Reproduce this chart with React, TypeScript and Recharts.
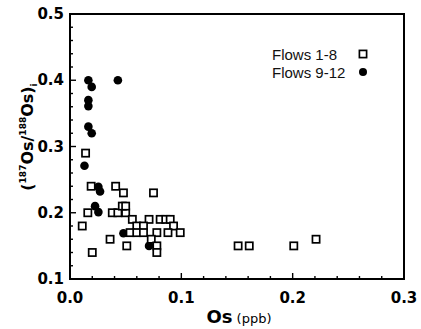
import { ScatterChart, Scatter, XAxis, YAxis, Legend, ReferenceArea } from "recharts";

// Os concentration (ppb) vs initial 187Os/188Os
const flows1to8 = [
  { os: 0.014, ratio: 0.29 },
  { os: 0.019, ratio: 0.24 },
  { os: 0.041, ratio: 0.24 },
  { os: 0.048, ratio: 0.23 },
  { os: 0.075, ratio: 0.23 },
  { os: 0.016, ratio: 0.2 },
  { os: 0.038, ratio: 0.2 },
  { os: 0.043, ratio: 0.2 },
  { os: 0.05, ratio: 0.2 },
  { os: 0.047, ratio: 0.21 },
  { os: 0.05, ratio: 0.21 },
  { os: 0.056, ratio: 0.19 },
  { os: 0.071, ratio: 0.19 },
  { os: 0.081, ratio: 0.19 },
  { os: 0.086, ratio: 0.19 },
  { os: 0.09, ratio: 0.19 },
  { os: 0.011, ratio: 0.18 },
  { os: 0.06, ratio: 0.18 },
  { os: 0.066, ratio: 0.18 },
  { os: 0.093, ratio: 0.18 },
  { os: 0.054, ratio: 0.17 },
  { os: 0.06, ratio: 0.17 },
  { os: 0.066, ratio: 0.17 },
  { os: 0.078, ratio: 0.17 },
  { os: 0.088, ratio: 0.17 },
  { os: 0.099, ratio: 0.17 },
  { os: 0.036, ratio: 0.16 },
  { os: 0.073, ratio: 0.16 },
  { os: 0.051, ratio: 0.15 },
  { os: 0.078, ratio: 0.15 },
  { os: 0.02, ratio: 0.14 },
  { os: 0.078, ratio: 0.14 },
  { os: 0.151, ratio: 0.15 },
  { os: 0.161, ratio: 0.15 },
  { os: 0.201, ratio: 0.15 },
  { os: 0.221, ratio: 0.16 },
];

const flows9to12 = [
  { os: 0.0165, ratio: 0.4 },
  { os: 0.0195, ratio: 0.39 },
  { os: 0.0165, ratio: 0.37 },
  { os: 0.0165, ratio: 0.361 },
  { os: 0.0165, ratio: 0.33 },
  { os: 0.0195, ratio: 0.32 },
  { os: 0.043, ratio: 0.4 },
  { os: 0.013, ratio: 0.271 },
  { os: 0.0255, ratio: 0.239 },
  { os: 0.027, ratio: 0.232 },
  { os: 0.0225, ratio: 0.21 },
  { os: 0.0255, ratio: 0.201 },
  { os: 0.048, ratio: 0.169 },
  { os: 0.071, ratio: 0.15 },
];

const xTicks = [0, 0.02, 0.04, 0.06, 0.08, 0.1, 0.12, 0.14, 0.16, 0.18, 0.2, 0.22, 0.24, 0.26, 0.28, 0.3];
const yTicks = [
  0.1, 0.12, 0.14, 0.16, 0.18, 0.2, 0.22, 0.24, 0.26, 0.28, 0.3,
  0.32, 0.34, 0.36, 0.38, 0.4, 0.42, 0.44, 0.46, 0.48, 0.5,
];

if (typeof document !== "undefined") document.body.style.margin = "0";

const TICK_FONT = "'DejaVu Sans', sans-serif";
const isMajor = (v: number) => Math.abs(v * 10 - Math.round(v * 10)) < 1e-6;

// ticks point into the plot, labels only on the majors (drawn as paths)
function InTick({ x, y, payload, side }: any) {
  const v = payload.value;
  const len = isMajor(v) ? 6 : 3;
  const tickProps = { stroke: "#000", strokeWidth: 1.4, fill: "none" };
  if (side === "bottom")
    return (
      <g>
        <path d={`M${x},${y}V${y - len}`} {...tickProps} />
        {isMajor(v) && (
          <text x={x} y={y + 24} textAnchor="middle" fontFamily={TICK_FONT} fontWeight="bold" fontSize={15} fill="#000">
            {v.toFixed(1)}
          </text>
        )}
      </g>
    );
  if (side === "left")
    return (
      <g>
        <path d={`M${x},${y}H${x + len}`} {...tickProps} />
        {isMajor(v) && (
          <text x={x - 6} y={y + 5} textAnchor="end" fontFamily={TICK_FONT} fontWeight="bold" fontSize={15} fill="#000">
            {v.toFixed(1)}
          </text>
        )}
      </g>
    );
  if (side === "top") return <path d={`M${x},${y}V${y + len}`} {...tickProps} />;
  return <path d={`M${x},${y}H${x - len}`} {...tickProps} />;
}

const OpenSquare = ({ cx, cy }: any) => (
  <rect x={cx - 3.6} y={cy - 3.6} width={7.2} height={7.2} fill="#fff" stroke="#000" strokeWidth={1.7} />
);
const Dot = ({ cx, cy }: any) => <circle cx={cx} cy={cy} r={4.3} fill="#000" />;

function LegendBox() {
  const row = { display: "flex", alignItems: "center", height: 18 } as const;
  const txt = { width: 86, fontFamily: "'Liberation Sans', Arial, sans-serif", fontSize: 15, color: "#111" };
  return (
    <div>
      <div style={row}>
        <span style={txt}>Flows 1-8</span>
        <svg width={10} height={10}>
          <rect x={1.4} y={1.4} width={7.2} height={7.2} fill="#fff" stroke="#000" strokeWidth={1.7} />
        </svg>
      </div>
      <div style={row}>
        <span style={txt}>Flows 9-12</span>
        <svg width={10} height={10}>
          <circle cx={5} cy={5} r={4} fill="#000" />
        </svg>
      </div>
    </div>
  );
}

const YTitle = () => (
  <text
    transform="translate(33,137) rotate(-90)"
    textAnchor="middle"
    fontFamily={TICK_FONT}
    fontWeight="bold"
    fontSize={16}
    fill="#000"
  >
    (<tspan fontSize={9} dy={-7}>187</tspan>
    <tspan dy={7}>Os/</tspan>
    <tspan fontSize={9} dy={-7}>188</tspan>
    <tspan dy={7}>Os)</tspan>
    <tspan fontSize={9} dy={4}>i</tspan>
  </text>
);

const XTitle = () => (
  <text x={239} y={323} textAnchor="middle" fontFamily={TICK_FONT} fill="#000">
    <tspan fontWeight="bold" fontSize={18}>Os</tspan>
    <tspan fontSize={13}> (ppb)</tspan>
  </text>
);

export default function App() {
  return (
    <ScatterChart width={421} height={329} margin={{ top: 14, right: 17, bottom: 0, left: 0 }} style={{ background: "#fff" }}>
      <XAxis
        xAxisId="b"
        type="number"
        dataKey="os"
        domain={[0, 0.3]}
        ticks={xTicks}
        interval={0}
        height={50}
        tickSize={0}
        tickMargin={0}
        axisLine={false}
        tickLine={false}
        tick={(p: any) => <InTick {...p} side="bottom" />}
        label={<XTitle />}
      />
      <XAxis
        xAxisId="t"
        orientation="top"
        type="number"
        dataKey="os"
        domain={[0, 0.3]}
        ticks={xTicks}
        interval={0}
        height={0}
        tickSize={0}
        tickMargin={0}
        axisLine={false}
        tickLine={false}
        tick={(p: any) => <InTick {...p} side="top" />}
      />
      <YAxis
        yAxisId="l"
        type="number"
        dataKey="ratio"
        domain={[0.1, 0.5]}
        ticks={yTicks}
        interval={0}
        width={70}
        tickSize={0}
        tickMargin={0}
        axisLine={false}
        tickLine={false}
        tick={(p: any) => <InTick {...p} side="left" />}
        label={<YTitle />}
      />
      <YAxis
        yAxisId="r"
        orientation="right"
        type="number"
        dataKey="ratio"
        domain={[0.1, 0.5]}
        ticks={yTicks}
        interval={0}
        width={0}
        tickSize={0}
        tickMargin={0}
        axisLine={false}
        tickLine={false}
        tick={(p: any) => <InTick {...p} side="right" />}
      />
      <ReferenceArea
        xAxisId="b"
        yAxisId="l"
        x1={0}
        x2={0.3}
        y1={0.1}
        y2={0.5}
        fill="none"
        fillOpacity={0}
        stroke="#000"
        strokeWidth={2}
        strokeOpacity={1}
      />
      <Scatter name="Flows 9-12" data={flows9to12} xAxisId="b" yAxisId="l" shape={<Dot />} isAnimationActive={false} />
      <Scatter name="Flows 1-8" data={flows1to8} xAxisId="b" yAxisId="l" shape={<OpenSquare />} isAnimationActive={false} />
      <Legend
        layout="horizontal"
        verticalAlign="middle"
        align="center"
        content={() => <LegendBox />}
        wrapperStyle={{ position: "absolute", left: 272, top: 45, width: 110, bottom: "auto" }}
      />
    </ScatterChart>
  );
}
